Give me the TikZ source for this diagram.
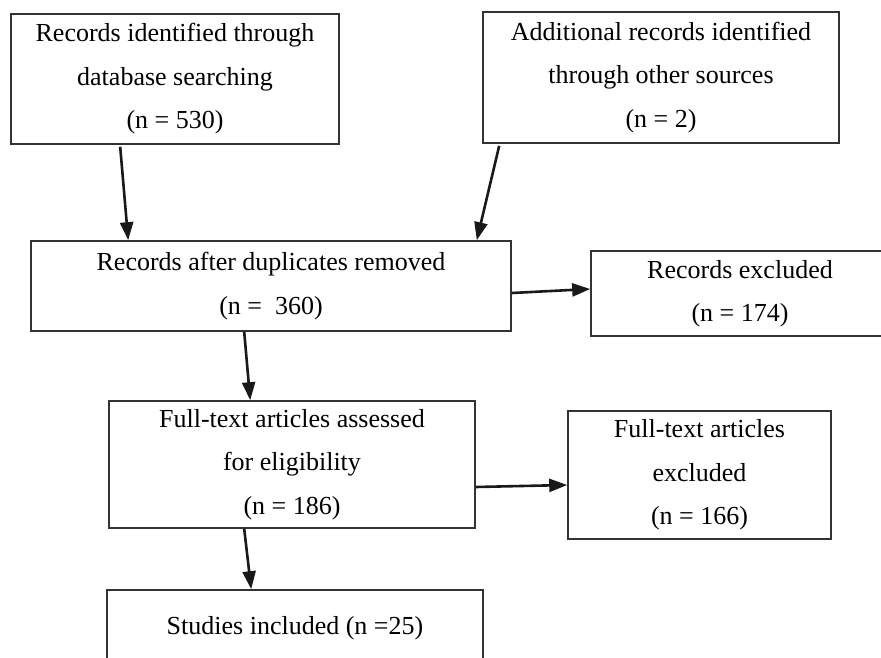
\documentclass[tikz,border=0pt]{standalone}
\usepackage{fontspec}
\setmainfont{Liberation Serif}
\usetikzlibrary{arrows.meta}
\begin{document}
\begin{tikzpicture}[x=1pt,y=-1pt,
  box/.style={draw=black!80, line width=1.6pt, inner sep=0pt, align=center,
    font=\fontsize{26}{43.5}\selectfont},
  arr/.style={draw=black!90, line width=2.6pt, -{Triangle[length=18pt,width=13pt]}}]
\clip (0,0) rectangle (881,658);
\fill[white] (0,0) rectangle (881,658);
\node[box, minimum width=328pt, minimum height=130pt] (b1) at (175,79)
  {Records identified through\\database searching\\(n = 530)};
\node[box, minimum width=356pt, minimum height=131pt] (b2) at (661,77.5)
  {Additional records identified\\through other sources\\(n = 2)};
\node[box, minimum width=480pt, minimum height=90pt] (b3) at (271,286)
  {Records after duplicates removed\\(n = \ 360)};
\node[box, minimum width=298pt, minimum height=85pt] (b4) at (740,293.5)
  {Records excluded\\(n = 174)};
\node[box, minimum width=366pt, minimum height=127pt] (b5) at (292,464.5)
  {Full-text articles assessed\\for eligibility\\(n = 186)};
\node[box, minimum width=263pt, minimum height=128pt] (b6) at (699.5,475)
  {Full-text articles\\excluded\\(n = 166)};
\node[box, minimum width=376pt, minimum height=76pt] (b7) at (295,628)
  {Studies included (n =25)};
\draw[arr] ([xshift=110pt,yshift=-2pt]b1.south west) -- ([xshift=98pt]b3.north west);
\draw[arr] ([xshift=17pt,yshift=-2pt]b2.south west) -- ([xshift=-35pt]b3.north east);
\draw[arr] ([yshift=-7pt]b3.east) -- ([yshift=4.5pt]b4.west);
\draw[arr] ([xshift=214pt]b3.south west) -- ([xshift=142pt]b5.north west);
\draw[arr] ([yshift=-22.5pt]b5.east) -- ([yshift=-10pt]b6.west);
\draw[arr] ([xshift=136pt]b5.south west) -- ([xshift=145pt]b7.north west);
\end{tikzpicture}
\end{document}
